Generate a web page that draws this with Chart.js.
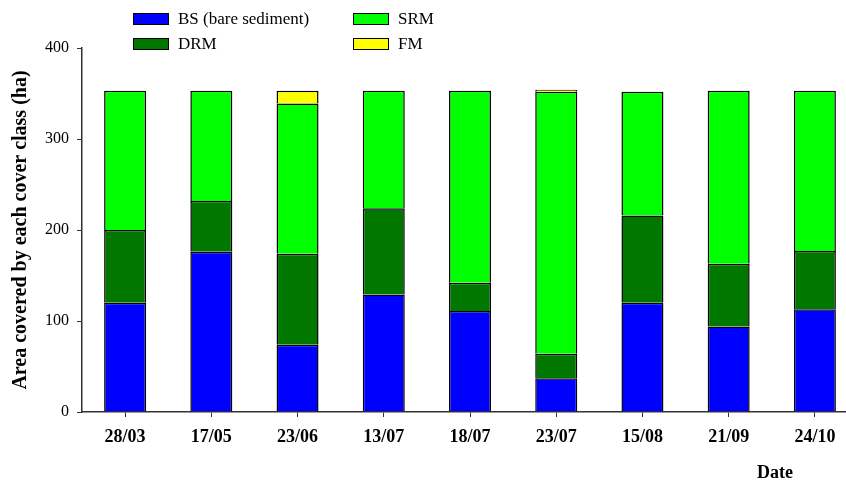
<!DOCTYPE html>
<html>
<head>
<meta charset="utf-8">
<script src="https://cdn.jsdelivr.net/npm/chart.js@4/dist/chart.umd.min.js"></script>
<style>
  html, body { margin: 0; padding: 0; background: #fff; overflow: hidden; }
  #wrap { width: 870px; height: 485px; position: relative; }
</style>
</head>
<body>
<div id="wrap"><canvas id="c"></canvas></div>
<script>
// Survey dates
const dates = ['28/03', '17/05', '23/06', '13/07', '18/07', '23/07', '15/08', '21/09', '24/10'];

// Area (ha) of each cover class per date
const bareSediment = [120, 176, 74, 129, 111, 37, 120, 94, 113];
const drm = [80, 56, 100, 95, 31, 27, 96, 69, 64];
const srm = [153, 121, 165, 129, 211, 288, 136, 190, 176];
const fm = [0, 0, 14, 0, 0, 2, 0, 0, 0];

// Y axis ticks
const yTicks = [0, 100, 200, 300, 400];

const SERIF = '"Liberation Serif", "DejaVu Serif", serif';

// Two-column legend drawn above the plot, plus the x axis caption
const legendAndCaption = {
  id: 'legendAndCaption',
  afterDraw(chart) {
    const ctx = chart.ctx;
    const order = [0, 2, 1, 3]; // BS, SRM / DRM, FM
    const cols = [133, 353];
    const rows = [13, 38];
    ctx.save();
    order.forEach((di, k) => {
      const ds = chart.data.datasets[di];
      const x = cols[k % 2];
      const y = rows[Math.floor(k / 2)];
      ctx.fillStyle = ds.backgroundColor;
      ctx.fillRect(x, y, 36, 12);
      ctx.strokeStyle = '#000';
      ctx.lineWidth = 1;
      ctx.strokeRect(x + 0.5, y + 0.5, 35, 11);
      ctx.fillStyle = '#000';
      ctx.font = '17px ' + SERIF;
      ctx.textBaseline = 'middle';
      ctx.textAlign = 'left';
      ctx.fillText(ds.label, x + 45, y + 7);
    });
    ctx.font = 'bold 18px ' + SERIF;
    ctx.textAlign = 'center';
    ctx.textBaseline = 'middle';
    ctx.fillText('Date', 775, 473);
    ctx.restore();
  }
};

// Each segment outlines its top and sides; the segment below supplies the shared edge
const common = { borderColor: '#000', borderWidth: 1.5, borderSkipped: 'start' };

new Chart(document.getElementById('c'), {
  type: 'bar',
  data: {
    labels: dates,
    datasets: [
      { label: 'BS (bare sediment)', data: bareSediment, backgroundColor: '#0000ff', ...common },
      { label: 'DRM', data: drm, backgroundColor: '#007800', ...common },
      { label: 'SRM', data: srm, backgroundColor: '#00ff00', ...common },
      { label: 'FM', data: fm, backgroundColor: '#ffff00', ...common }
    ]
  },
  options: {
    responsive: true,
    maintainAspectRatio: false,
    animation: false,
    layout: { padding: { top: 48, right: 12, left: 0, bottom: 0 } },
    categoryPercentage: 1,
    barPercentage: 0.487,
    plugins: { legend: { display: false }, tooltip: { enabled: false } },
    scales: {
      x: {
        stacked: true,
        afterFit(scale) { scale.height = 73; },
        grid: { display: true, drawOnChartArea: false, offset: false, tickLength: 5, color: '#333' },
        border: { display: true, color: '#333', width: 1.5 },
        ticks: { color: '#000', padding: 10, font: { family: SERIF, size: 18, weight: 'bold' }, maxRotation: 0 }
      },
      y: {
        stacked: true,
        min: 0,
        max: 400,
        afterFit(scale) { scale.width = 82; },
        afterBuildTicks(scale) { scale.ticks = yTicks.map(v => ({ value: v })); },
        grid: { display: true, drawOnChartArea: false, tickLength: 5, color: '#333' },
        border: { display: true, color: '#333', width: 1.5 },
        ticks: { color: '#000', padding: 8, font: { family: SERIF, size: 16 } },
        title: {
          display: true,
          text: 'Area covered by each cover class (ha)',
          color: '#000',
          padding: { top: 9, bottom: 0 },
          font: { family: SERIF, size: 20, weight: 'bold' }
        }
      }
    }
  },
  plugins: [legendAndCaption]
});
</script>
</body>
</html>
